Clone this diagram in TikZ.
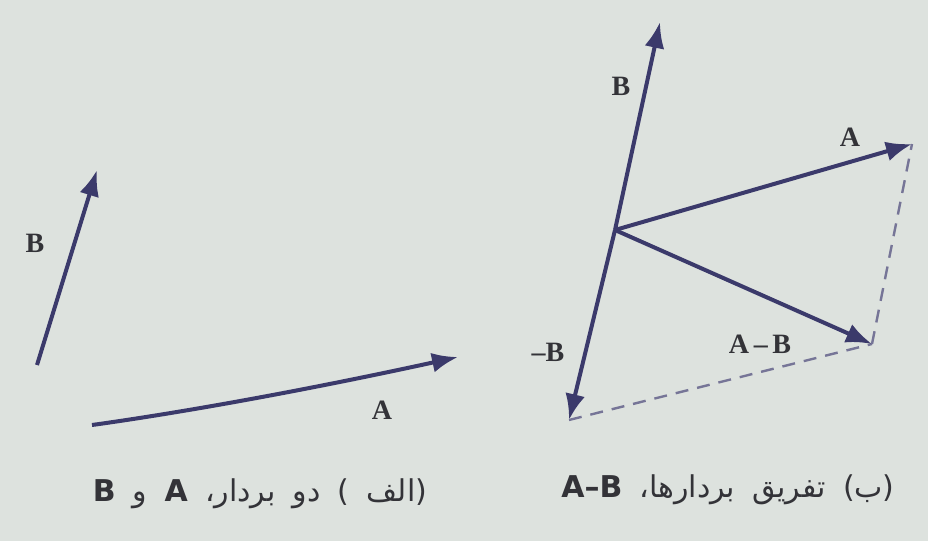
\documentclass[tikz,border=0pt]{standalone}
\usepackage{fontspec}
\setmainfont{Liberation Serif}
\newfontfamily\arabicfont[Script=Arabic,WordSpace=1.8]{DejaVu Sans}
\TeXXeTstate=1
\usetikzlibrary{arrows.meta}
\definecolor{bgc}{HTML}{DDE2DE}
\definecolor{vec}{HTML}{3B3A6B}
\definecolor{txt}{HTML}{333338}
\begin{document}
\begin{tikzpicture}[x=1pt,y=-1pt,
  vecline/.style={draw=vec,line width=4pt,-{Latex[length=26pt,width=20pt]}},
  dashline/.style={draw=vec!70,line width=2.4pt,dash pattern=on 13pt off 9pt},
  lbl/.style={text=txt,font=\fontsize{28}{30}\selectfont\bfseries,inner sep=0pt},
  captxt/.style={text=txt,font=\fontsize{30}{34}\selectfont,inner sep=0pt}]
\fill[bgc] (0,0) rectangle (928,541);
\useasboundingbox (0,0) rectangle (928,541);
% left panel
\coordinate (b0) at (37,365);
\coordinate (b1) at (97,170);
\coordinate (a0) at (92,425);
\coordinate (a1) at (458,357);
\draw[vecline] (b0) -- (b1);
\draw[vecline] (a0) .. controls (200,410) and (330,385) .. (a1);
\node[lbl] (lB) at (35,243) {B};
\node[lbl] (lA) at (382,410) {A};
% right panel
\coordinate (o) at (615,230);
\coordinate (rb) at (660,22);
\coordinate (ra) at (912,144);
\coordinate (rmb) at (569,420);
\coordinate (rd) at (872,344);
\draw[dashline] (rmb) -- (rd);
\draw[dashline] (rd) -- (ra);
\draw[vecline] (o) -- (rb);
\draw[vecline] (o) -- (ra);
\draw[vecline] (o) -- (rmb);
\draw[vecline] (o) -- (rd);
\node[lbl] (rlB) at (621,86) {B};
\node[lbl] (rlA) at (850,137) {A};
\node[lbl] (rlmB) at (548,352) {\textendash B};
\node[lbl] (rlD) at (760,344) {A\,\textendash\,B};
% captions
\node[captxt] (c1) at (260,494) {\arabicfont\beginR (الف ) دو بردار، \textbf{A} و \textbf{B}\endR};
\node[captxt] (c2) at (728,490) {\arabicfont\beginR (ب) تفریق بردارها، \beginL\textbf{A\textendash B}\endL{}\endR};
\end{tikzpicture}
\end{document}
